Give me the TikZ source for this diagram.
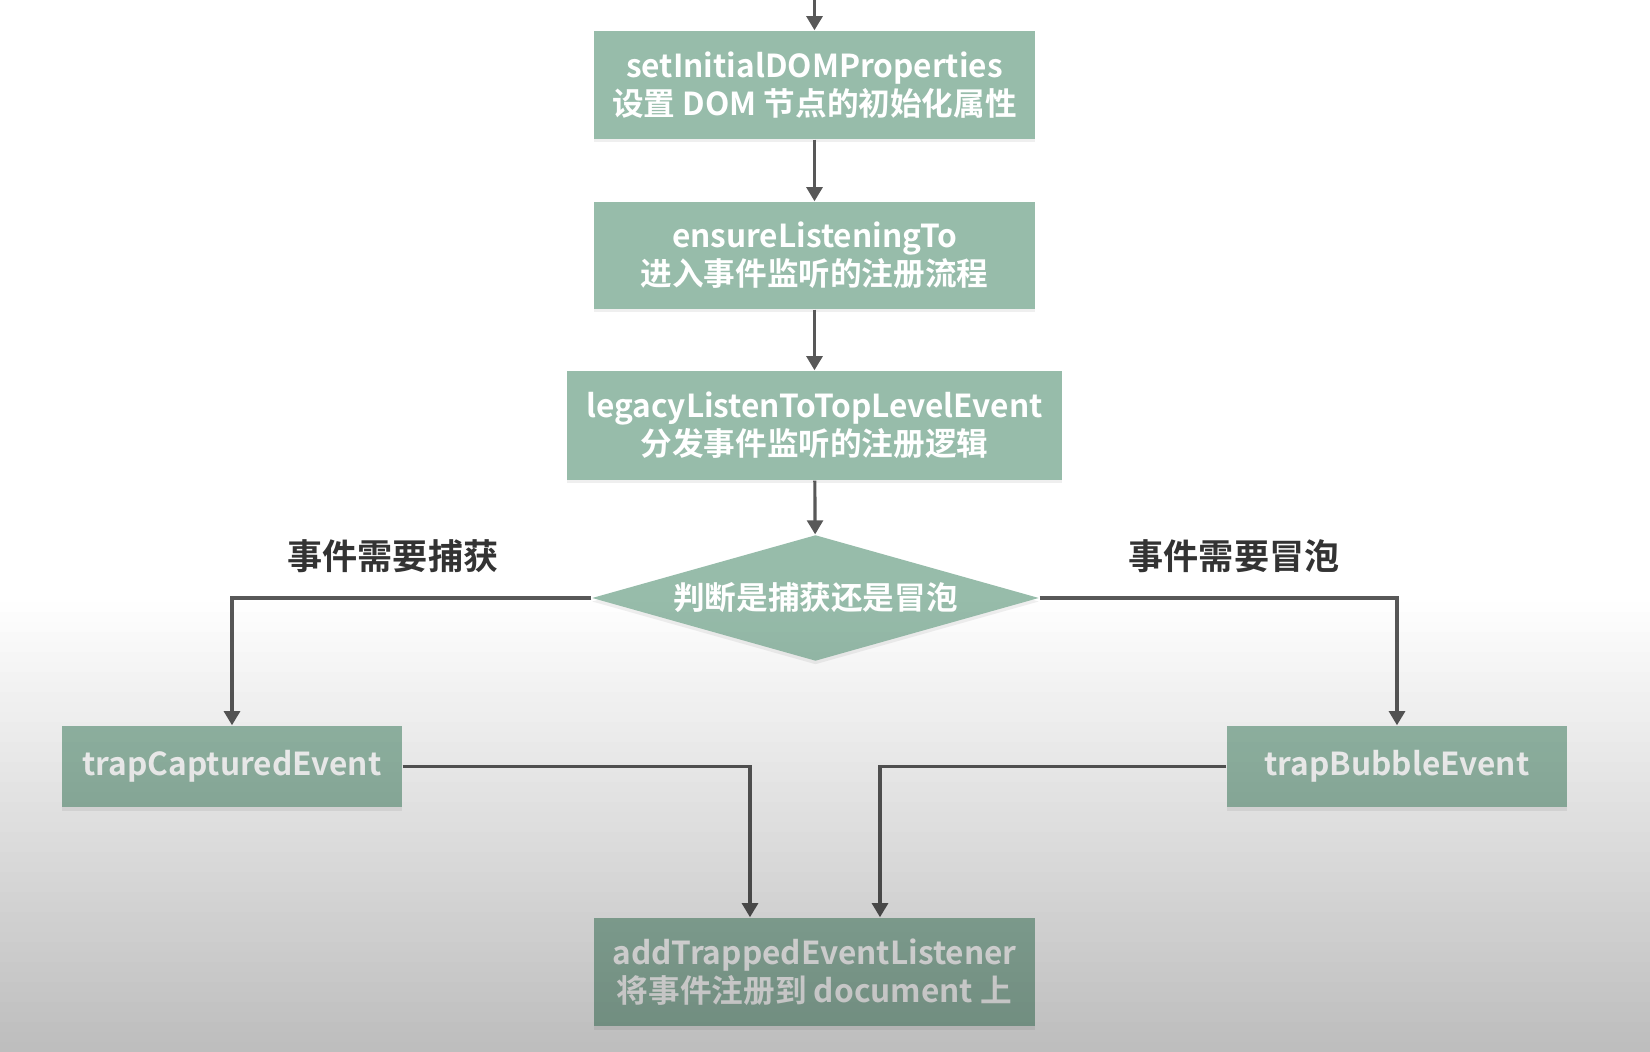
\documentclass[tikz,border=0pt]{standalone}
\usepackage{fontspec}
\setmainfont{Noto Sans CJK SC}[BoldFont={Noto Sans CJK SC Bold}]
\usetikzlibrary{shapes.geometric,arrows.meta,shadows}
\definecolor{boxgreen}{HTML}{97BCAA}
\definecolor{linegray}{HTML}{585858}
\definecolor{labelgray}{HTML}{333333}
\begin{document}
\begin{tikzpicture}[font=\bfseries\fontsize{9pt}{10.8pt}\selectfont]
\tikzstyle{box}=[rectangle, fill=boxgreen, text=white, align=center, inner sep=0pt,
  drop shadow={shadow xshift=0pt, shadow yshift=-1pt, opacity=0.12}]
\tikzstyle{arrow}=[draw=linegray, line width=0.9pt, -{Triangle[length=4pt,width=4.5pt]}]
\useasboundingbox (0,0) rectangle (16.5,-10.52);
\fill [white] (0,0) rectangle (16.5,-10.52);
% flow boxes
\coordinate (start) at (8.145,0);
\node [box, minimum width=4.41cm, minimum height=1.08cm] (setprops) at (8.145,-0.85)
  {setInitialDOMProperties\\设置 DOM 节点的初始化属性};
\node [box, minimum width=4.41cm, minimum height=1.07cm] (ensure) at (8.145,-2.555)
  {ensureListeningTo\\进入事件监听的注册流程};
\node [box, minimum width=4.95cm, minimum height=1.09cm] (legacy) at (8.145,-4.255)
  {legacyListenToTopLevelEvent\\分发事件监听的注册逻辑};
\node [box, diamond, aspect=3.5, minimum width=4.47cm, minimum height=1.26cm] (judge) at (8.155,-5.98)
  {判断是捕获还是冒泡};
\node [box, minimum width=3.40cm, minimum height=0.81cm] (capture) at (2.32,-7.665)
  {trapCapturedEvent};
\node [box, minimum width=3.40cm, minimum height=0.81cm] (bubble) at (13.97,-7.665)
  {trapBubbleEvent};
\node [box, minimum width=4.41cm, minimum height=1.08cm] (addlistener) at (8.145,-9.72)
  {addTrappedEventListener\\将事件注册到 document 上};
% branch labels
\node [text=labelgray, font=\bfseries\fontsize{10pt}{12pt}\selectfont] (capturelabel) at (3.93,-5.56) {事件需要捕获};
\node [text=labelgray, font=\bfseries\fontsize{10pt}{12pt}\selectfont] (bubblelabel) at (12.34,-5.56) {事件需要冒泡};
% connectors
\draw [arrow] (start) -- (setprops);
\draw [arrow] (setprops) -- (ensure);
\draw [arrow] (ensure) -- (legacy);
\draw [arrow] (legacy) -- (judge);
\draw [arrow] (judge.west) -| (capture.north);
\draw [arrow] (judge.east) -| (bubble.north);
\draw [arrow] (capture.east) -| ([xshift=-0.645cm]addlistener.north);
\draw [arrow] (bubble.west) -| ([xshift=0.655cm]addlistener.north);
% grey shade over the lower part, in thin bands
\foreach \i in {1,...,46}
  \fill [black, opacity=0.0057*\i] (0,-5.92-0.1*\i) rectangle (16.5,-6.02-0.1*\i);
\end{tikzpicture}
\end{document}
